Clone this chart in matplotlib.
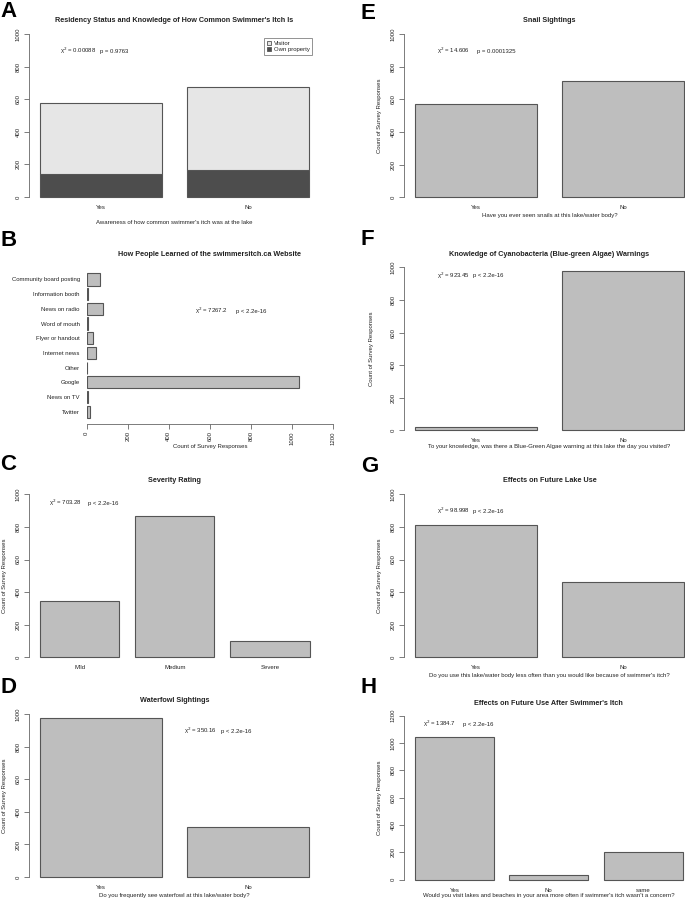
import matplotlib
matplotlib.use('Agg')
import matplotlib.pyplot as plt
from matplotlib.patches import Patch

plt.rcParams['font.family'] = ['Liberation Sans', 'DejaVu Sans']

# ---------------- data ----------------
a_categories = ['Yes', 'No']
a_own_property = [143, 164]
a_visitor = [435, 509]          # stacked on top of own property

b_categories = ['Twitter', 'News on TV', 'Google', 'Other', 'Internet news',
                'Flyer or handout', 'Word of mouth', 'News on radio',
                'Information booth', 'Community board posting']
b_counts = [14, 5, 1036, 2, 43, 29, 4, 78, 4, 66]

c_categories = ['Mild', 'Medium', 'Severe']
c_counts = [345, 865, 100]

d_categories = ['Yes', 'No']
d_counts = [975, 307]

e_categories = ['Yes', 'No']
e_counts = [574, 712]

f_categories = ['Yes', 'No']
f_counts = [22, 977]

g_categories = ['Yes', 'No']
g_counts = [814, 460]

h_categories = ['Yes', 'No', 'same']
h_counts = [1044, 34, 203]

# ---------------- styling ----------------
W, H = 685, 902
fig = plt.figure(figsize=(W / 100, H / 100), dpi=100)

BAR = '#bebebe'
EDGE = '#555555'
AXC = '#666666'
TXT = '#222222'
LIGHT = '#e6e6e6'
DARK = '#4d4d4d'
FS = 4.3
TFS = 5.2


def ftext(x, y, s, **kw):
    kw.setdefault('fontsize', FS)
    kw.setdefault('color', TXT)
    fig.text(x / W, 1 - y / H, s, **kw)


def vbar_axes(n, bl, u, y0, k, ymax, cats):
    r = 1.2 * n - 0.2
    xl = (0.2 - 0.04 * r, 1.2 * n + 0.04 * r)
    xorig = bl - 0.2 * u
    left = xorig + xl[0] * u
    right = xorig + xl[1] * u
    yl = (-0.04 * ymax, 1.04 * ymax)
    top = y0 - yl[1] * k
    bottom = y0 - yl[0] * k
    ax = fig.add_axes([left / W, 1 - bottom / H, (right - left) / W, (bottom - top) / H])
    ax.set_xlim(xl)
    ax.set_ylim(yl)
    for s in ['top', 'right', 'bottom']:
        ax.spines[s].set_visible(False)
    ax.spines['left'].set_bounds(0, ymax)
    ax.spines['left'].set_color(AXC)
    ax.spines['left'].set_linewidth(0.6)
    yt = list(range(0, ymax + 1, 200))
    ax.set_yticks(yt)
    ax.set_yticklabels([str(v) for v in yt], rotation=90, va='center')
    ax.tick_params(axis='y', length=3.5, width=0.6, pad=2.5, labelsize=FS,
                   color=AXC, labelcolor=TXT)
    centers = [0.7 + 1.2 * i for i in range(n)]
    ax.set_xticks(centers)
    ax.set_xticklabels(cats)
    ax.tick_params(axis='x', length=0, pad=1.2, labelsize=FS, labelcolor=TXT)
    ax.patch.set_alpha(0)
    return ax, centers, (left + right) / 2


def bars(ax, centers, vals, bottom=None, color=BAR):
    ax.bar(centers, vals, width=1.0, bottom=bottom, color=color,
           edgecolor=EDGE, linewidth=0.8)


# ---------------- Panel A ----------------
ax, cx, mid = vbar_axes(2, 40, 122.3, 197, 0.163, 1000, a_categories)
bars(ax, cx, a_own_property, color=DARK)
bars(ax, cx, a_visitor, bottom=a_own_property, color=LIGHT)
ftext(mid, 21, "Residency Status and Knowledge of How Common Swimmer's Itch Is",
      ha='center', va='center', fontsize=TFS, fontweight='bold')
ftext(mid, 222, "Awareness of how common swimmer's itch was at the lake", ha='center', va='center')
ftext(60, 51, 'χ$^2$ = 0.00088', va='center')
ftext(100, 51, 'p = 0.9763', va='center')
leg = ax.legend(handles=[Patch(fc=LIGHT, ec=EDGE, lw=0.6), Patch(fc=DARK, ec=EDGE, lw=0.6)],
                labels=['Visitor', 'Own property'], loc='upper left',
                bbox_to_anchor=(264 / W, 1 - 38 / H), bbox_transform=fig.transFigure,
                fontsize=FS, frameon=True, fancybox=False, handlelength=0.7,
                handleheight=0.7, borderpad=0.45, labelspacing=0.15,
                handletextpad=0.5, borderaxespad=0)
leg.get_frame().set_edgecolor('#777777')
leg.get_frame().set_linewidth(0.7)
for t in leg.get_texts():
    t.set_color(TXT)

# ---------------- Panel B ----------------
bl_left, bl_right = 86.7, 333.0
by0, bu = 420.3, 12.25
b_ylim = (-0.272, 12.472)
btop = by0 - b_ylim[1] * bu
bbot = by0 - b_ylim[0] * bu
axb = fig.add_axes([bl_left / W, 1 - bbot / H, (bl_right - bl_left) / W, (bbot - btop) / H])
axb.set_xlim(0, 1200)
axb.set_ylim(b_ylim)
bpos = [0.7 + 1.2 * i for i in range(len(b_categories))]
axb.barh(bpos, b_counts, height=1.0, color=BAR, edgecolor=EDGE, linewidth=0.8)
for s in ['top', 'right', 'left']:
    axb.spines[s].set_visible(False)
axb.spines['bottom'].set_bounds(0, 1200)
axb.spines['bottom'].set_color(AXC)
axb.spines['bottom'].set_linewidth(0.6)
xt = list(range(0, 1201, 200))
axb.set_xticks(xt)
axb.set_xticklabels([str(v) for v in xt], rotation=90, ha='center', va='top')
axb.tick_params(axis='x', length=3.5, width=0.6, pad=2.0, labelsize=FS, color=AXC, labelcolor=TXT)
axb.set_yticks(bpos)
axb.set_yticklabels(b_categories)
axb.tick_params(axis='y', length=0, pad=5, labelsize=FS, labelcolor=TXT)
axb.patch.set_alpha(0)
ftext((bl_left + bl_right) / 2, 254.3, 'How People Learned of the swimmersitch.ca Website',
      ha='center', va='center', fontsize=TFS, fontweight='bold')
ftext((bl_left + bl_right) / 2, 446.5, 'Count of Survey Responses', ha='center', va='center')
ftext(195, 311, 'χ$^2$ = 7267.2', va='center')
ftext(236, 311, 'p < 2.2e-16', va='center')

# ---------------- Panel C ----------------
ax, cx, mid = vbar_axes(3, 40, 79.3, 657.3, 0.163, 1000, c_categories)
bars(ax, cx, c_counts)
ftext(mid, 481, 'Severity Rating', ha='center', va='center', fontsize=TFS, fontweight='bold')
ftext(5, 575.8, 'Count of Survey Responses', ha='center', va='center', rotation=90)
ftext(49, 503.3, 'χ$^2$ = 703.28', va='center')
ftext(88, 503.3, 'p < 2.2e-16', va='center')

# ---------------- Panel D ----------------
ax, cx, mid = vbar_axes(2, 40, 122.3, 877, 0.1627, 1000, d_categories)
bars(ax, cx, d_counts)
ftext(mid, 700.3, 'Waterfowl Sightings', ha='center', va='center', fontsize=TFS, fontweight='bold')
ftext(mid, 895, 'Do you frequently see waterfowl at this lake/water body?', ha='center', va='center')
ftext(5, 795.6, 'Count of Survey Responses', ha='center', va='center', rotation=90)
ftext(183.7, 731, 'χ$^2$ = 350.16', va='center')
ftext(220.7, 731, 'p < 2.2e-16', va='center')

# ---------------- Panel E ----------------
ax, cx, mid = vbar_axes(2, 415, 122.3, 197.3, 0.163, 1000, e_categories)
bars(ax, cx, e_counts)
ftext(mid, 20.7, 'Snail Sightings', ha='center', va='center', fontsize=TFS, fontweight='bold')
ftext(mid, 215, 'Have you ever seen snails at this lake/water body?', ha='center', va='center')
ftext(380, 115.8, 'Count of Survey Responses', ha='center', va='center', rotation=90)
ftext(436.7, 51, 'χ$^2$ = 14.606', va='center')
ftext(477.3, 51, 'p = 0.0001325', va='center')

# ---------------- Panel F ----------------
ax, cx, mid = vbar_axes(2, 415, 122.3, 430.3, 0.163, 1000, f_categories)
bars(ax, cx, f_counts)
ftext(mid, 254.3, 'Knowledge of Cyanobacteria (Blue-green Algae) Warnings',
      ha='center', va='center', fontsize=TFS, fontweight='bold')
ftext(mid, 446.7, 'To your knowledge, was there a Blue-Green Algae warning at this lake the day you visited?',
      ha='center', va='center')
ftext(371.7, 348.8, 'Count of Survey Responses', ha='center', va='center', rotation=90)
ftext(436.7, 276, 'χ$^2$ = 923.45', va='center')
ftext(472.7, 276, 'p < 2.2e-16', va='center')

# ---------------- Panel G ----------------
ax, cx, mid = vbar_axes(2, 415, 122.3, 657.3, 0.163, 1000, g_categories)
bars(ax, cx, g_counts)
ftext(mid, 481, 'Effects on Future Lake Use', ha='center', va='center', fontsize=TFS, fontweight='bold')
ftext(mid, 675, "Do you use this lake/water body less often than you would like because of swimmer's itch?",
      ha='center', va='center')
ftext(380, 575.8, 'Count of Survey Responses', ha='center', va='center', rotation=90)
ftext(436.7, 511, 'χ$^2$ = 98.998', va='center')
ftext(472.7, 511, 'p < 2.2e-16', va='center')

# ---------------- Panel H ----------------
ax, cx, mid = vbar_axes(3, 415, 78.7, 879.7, 0.1367, 1200, h_categories)
bars(ax, cx, h_counts)
ftext(mid, 703.3, "Effects on Future Use After Swimmer's Itch", ha='center', va='center',
      fontsize=TFS, fontweight='bold')
ftext(mid, 895.7, "Would you visit lakes and beaches in your area more often if swimmer's itch wasn't a concern?",
      ha='center', va='center')
ftext(380, 797.7, 'Count of Survey Responses', ha='center', va='center', rotation=90)
ftext(423.3, 724.3, 'χ$^2$ = 1384.7', va='center')
ftext(463.3, 724.3, 'p < 2.2e-16', va='center')

# ---------------- panel letters ----------------
for letter, x, y in [('A', 0, 1), ('B', 0, 230), ('C', 0, 454), ('D', 0, 677),
                     ('E', 361, 3), ('F', 361, 229), ('G', 361, 456), ('H', 361, 677)]:
    ftext(x, y, letter, ha='left', va='top', fontsize=16, fontweight='bold', color='black')

fig.savefig('out.png', dpi=100)
